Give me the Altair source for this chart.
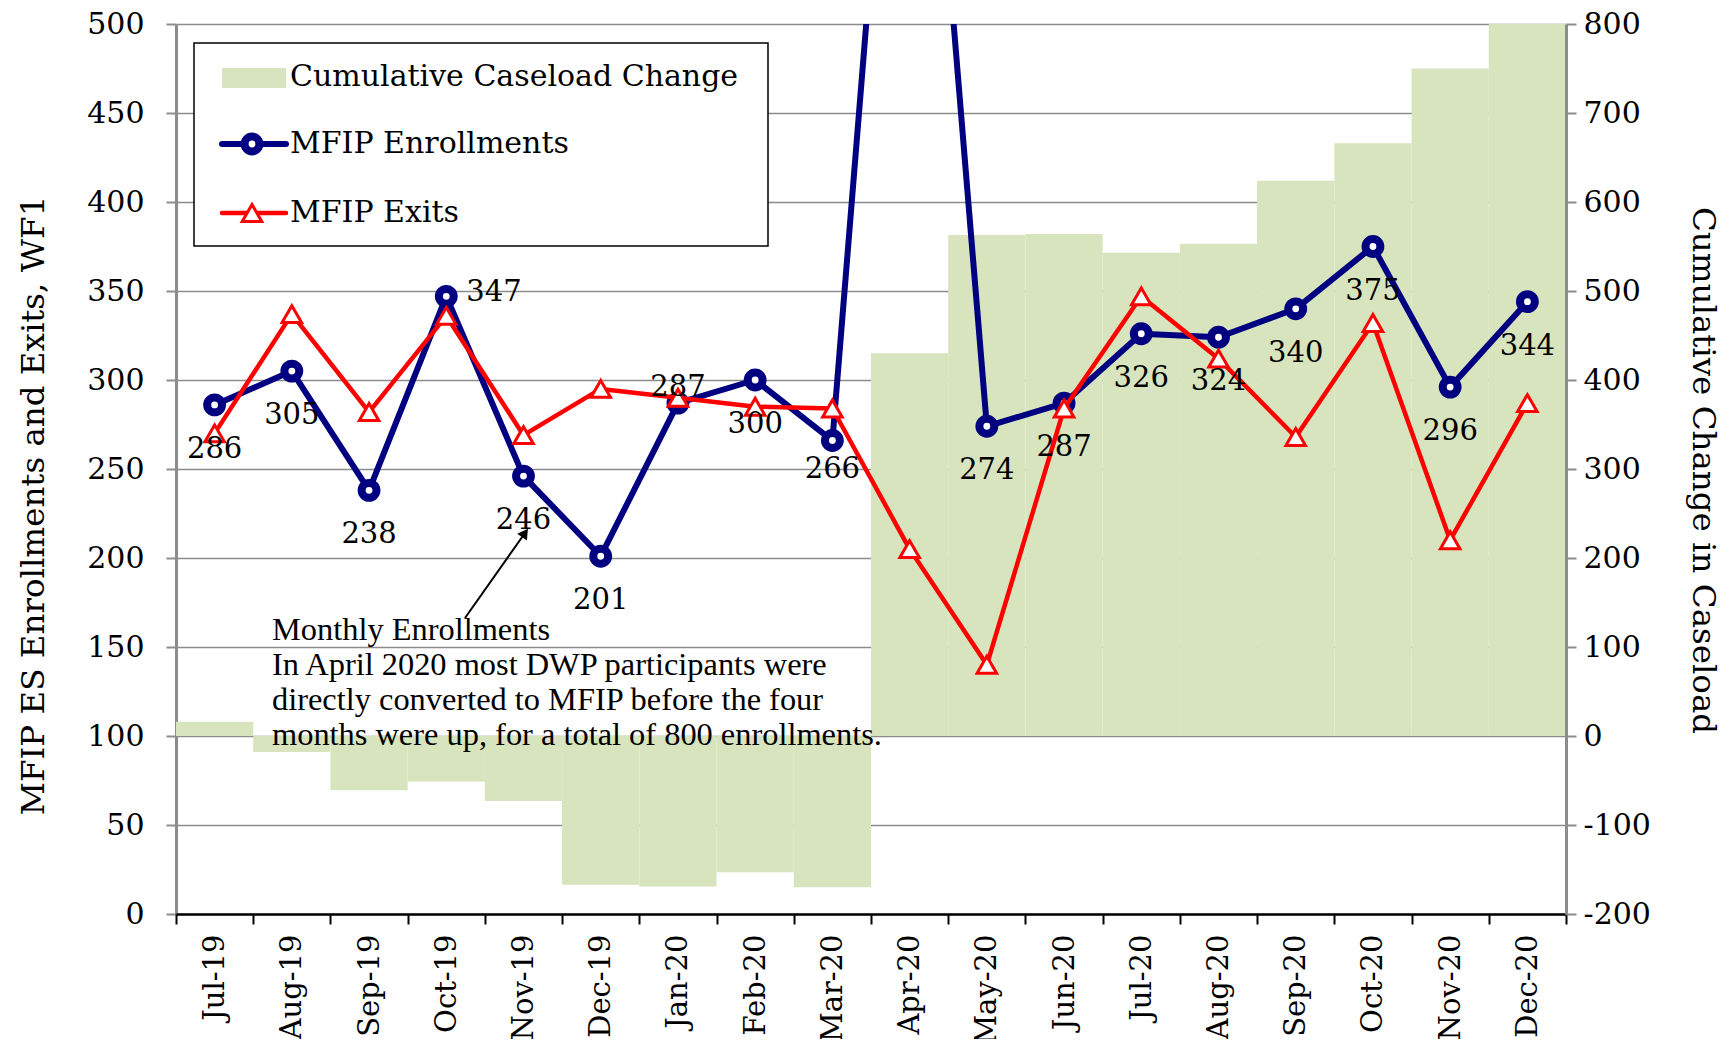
import altair as alt
import pandas as pd

months = ["Jul-19", "Aug-19", "Sep-19", "Oct-19", "Nov-19", "Dec-19", "Jan-20", "Feb-20", "Mar-20",
          "Apr-20", "May-20", "Jun-20", "Jul-20", "Aug-20", "Sep-20", "Oct-20", "Nov-20", "Dec-20"]
enrollments = [286, 305, 238, 347, 246, 201, 287, 300, 266, 800, 274, 287, 326, 324, 340, 375, 296, 344]
exits = [270, 337, 282, 336, 269, 295, 290, 285, 284, 205, 140, 284, 347, 312, 268, 332, 210, 287]
caseload_change = [16, -18, -61, -51, -73, -167, -169, -153, -170, 430, 563, 564, 543, 553, 624, 666, 750, 800]

left_ticks = list(range(0, 501, 50))
right_ticks = list(range(-200, 801, 100))

legend_labels = ["Cumulative Caseload Change", "MFIP Enrollments", "MFIP Exits"]
note_lines = ["Monthly Enrollments",
              "In April 2020 most DWP participants were",
              "directly converted to MFIP before the four",
              "months were up, for a total of 800 enrollments."]

df = pd.DataFrame({"month": months, "enroll": enrollments, "exits": exits, "caseload": caseload_change})

SERIF = "DejaVu Serif"
GRID = "#8c8c8c"
NAVY = "#000080"
RED = "#ff0000"
GREEN = "#d7e4bd"
W, H = 1390, 890

xaxis = alt.Axis(labelAngle=-90, tickBand="extent", domainColor="black", domainWidth=2.5,
                 tickColor="black", tickWidth=2, tickSize=10, labelFontSize=29, labelPadding=10,
                 title=None, grid=False, labelFont=SERIF, zindex=1)
x = alt.X("month:N", sort=months, scale=alt.Scale(paddingInner=0, paddingOuter=0), axis=xaxis)

laxis = alt.Axis(orient="left", values=left_ticks, grid=True, gridColor=GRID, gridWidth=1.5,
                 domainColor=GRID, domainWidth=3, tickColor=GRID, tickWidth=2, tickSize=10,
                 labelFont=SERIF, labelFontSize=30, labelPadding=22, labelColor="black",
                 title="MFIP ES Enrollments and Exits, WF1", titleFont=SERIF, titleFontSize=32.5,
                 titleFontWeight="normal", titleX=-143, titleY=481, titleAngle=-90,
                 titleBaseline="middle", titleAlign="center", titleColor="black")
raxis = alt.Axis(orient="right", values=right_ticks, grid=False,
                 domainColor=GRID, domainWidth=3, tickColor=GRID, tickWidth=2, tickSize=10,
                 labelFont=SERIF, labelFontSize=30, labelPadding=7, labelColor="black",
                 labelExpr="datum.value < 0 ? '-' + (-datum.value) : '' + datum.value",
                 title="Cumulative Change in Caseload", titleFont=SERIF, titleFontSize=32.5,
                 titleFontWeight="normal", titleX=136, titleY=446, titleAngle=90,
                 titleBaseline="middle", titleAlign="center", titleColor="black", zindex=1)

yl_scale = alt.Scale(domain=[0, 500], nice=False, zero=False)

bars = alt.Chart(df).mark_bar(color=GREEN, clip=True).encode(
    x=x,
    y=alt.Y("caseload:Q", scale=alt.Scale(domain=[-200, 800], nice=False), axis=raxis),
    y2=alt.datum(0),
)

base = alt.Chart(df)
ye = alt.Y("enroll:Q", scale=yl_scale, axis=laxis)
yx = alt.Y("exits:Q", scale=yl_scale, axis=laxis)

blue_line = base.mark_line(color=NAVY, strokeWidth=6, clip=True, strokeJoin="round").encode(x=x, y=ye)
blue_pts = base.mark_point(shape="circle", filled=True, fill="white", stroke=NAVY, strokeWidth=8,
                           size=220, opacity=1, clip=True).encode(x=x, y=ye)
red_line = base.mark_line(color=RED, strokeWidth=4.5, clip=True, strokeJoin="round").encode(x=x, y=yx)
red_pts = base.mark_point(shape="triangle-up", filled=True, fill="white", stroke=RED, strokeWidth=3,
                          size=380, opacity=1, clip=True).encode(x=x, y=yx)

special = ["Oct-19", "Jan-20", "Mar-20", "Apr-20"]
txt = dict(font=SERIF, fontSize=29, color="black")
lab_below = base.transform_filter(
    ~alt.FieldOneOfPredicate(field="month", oneOf=special)
).mark_text(baseline="middle", align="center", dy=44, **txt).encode(x=x, y=ye, text="enroll:Q")
lab_right = base.transform_filter(
    alt.FieldOneOfPredicate(field="month", oneOf=["Oct-19"])
).mark_text(baseline="middle", align="left", dx=20, dy=-4, **txt).encode(x=x, y=ye, text="enroll:Q")
lab_above = base.transform_filter(
    alt.FieldOneOfPredicate(field="month", oneOf=["Jan-20"])
).mark_text(baseline="middle", align="center", dy=-16, **txt).encode(x=x, y=ye, text="enroll:Q")
lab_mar = base.transform_filter(
    alt.FieldOneOfPredicate(field="month", oneOf=["Mar-20"])
).mark_text(baseline="middle", align="center", dy=28, **txt).encode(x=x, y=ye, text="enroll:Q")

lines = alt.layer(blue_line, blue_pts, red_line, red_pts, lab_below, lab_right, lab_above, lab_mar)

one = alt.Chart(pd.DataFrame({"k": [0]}))
v = alt.value

legend_box = one.mark_rect(fill="white", stroke="black", strokeWidth=1.5).encode(
    x=v(18), x2=v(592), y=v(19), y2=v(222))
leg_swatch = one.mark_rect(fill=GREEN).encode(x=v(46), x2=v(110), y=v(44), y2=v(64))
leg_bline = one.mark_rule(color=NAVY, strokeWidth=6, strokeCap="round").encode(x=v(46), x2=v(110), y=v(120))
leg_bpt = one.mark_point(shape="circle", filled=True, fill="white", stroke=NAVY, strokeWidth=8,
                         size=220, opacity=1).encode(x=v(76), y=v(120))
leg_rline = one.mark_rule(color=RED, strokeWidth=4.5, strokeCap="round").encode(x=v(46), x2=v(110), y=v(189))
leg_rpt = one.mark_point(shape="triangle-up", filled=True, fill="white", stroke=RED, strokeWidth=3,
                         size=380, opacity=1).encode(x=v(76), y=v(189))
leg_texts = [
    one.mark_text(align="left", baseline="middle", font=SERIF, fontSize=30, color="black",
                  text=lab).encode(x=v(114), y=v(yy))
    for lab, yy in zip(legend_labels, [53, 120, 189])
]

arrow_line = one.mark_rule(color="black", strokeWidth=2).encode(
    x=v(289), y=v(594), x2=v(349), y2=v(509))
arrow_head = one.mark_point(shape="triangle-up", filled=True, color="black", size=140, angle=35,
                            opacity=1).encode(x=v(349), y=v(509))
note = one.mark_text(align="left", baseline="alphabetic", font="Liberation Serif", fontSize=32.4,
                     lineHeight=35, color="black", text=note_lines).encode(x=v(96), y=v(616))

chart = alt.layer(
    bars, lines, legend_box, leg_swatch, leg_bline, leg_bpt, leg_rline, leg_rpt, *leg_texts,
    arrow_line, arrow_head, note
).resolve_scale(y="independent").properties(
    width=W, height=H,
    autosize=alt.AutoSizeParams(type="none"),
    padding={"left": 168, "top": 16, "right": 153, "bottom": 125},
).configure_view(stroke=None).configure_axis(labelFont=SERIF, titleFont=SERIF)

chart.save("out.html", embed_options={"renderer": "svg", "actions": False})
